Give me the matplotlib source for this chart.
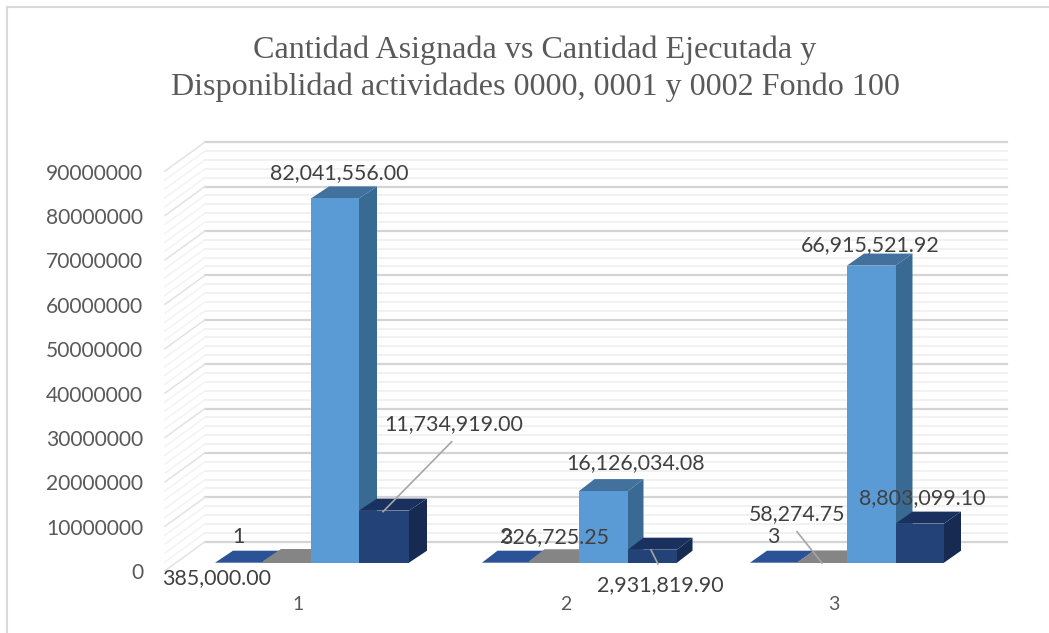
import matplotlib
matplotlib.use("Agg")
import matplotlib.pyplot as plt
from matplotlib.patches import Polygon, Rectangle
from matplotlib.lines import Line2D
from matplotlib.transforms import ScaledTranslation

# data
categories = ["1", "2", "3"]
actividad = [1, 2, 3]
disponible = [385000.00, 326725.25, 58274.75]
asignada = [82041556.00, 16126034.08, 66915521.92]
ejecutada = [11734919.00, 2931819.90, 8803099.10]
y_ticks = list(range(0, 90000001, 10000000))
title_lines = ["Cantidad Asignada vs Cantidad Ejecutada y",
               "Disponiblidad actividades 0000, 0001 y 0002 Fondo 100"]

# layout, in picture pixels
W, H = 1049, 633
PX_PER_UNIT = 44.4 / 1e7
BASE = 562.7
LEFT, RIGHT, TOP = 165, 1007, 130
group_edges = [[215, 263, 311, 359, 409],
               [482, 529, 579, 628, 677],
               [750, 797, 847, 895.5, 944]]
group_depth = [18, 15.5, 17]
tick_x = [298, 566, 834]
label_pos = [[(238, 537), (216.7, 578), (339, 173), (454, 424)],
             [(506, 537), (555, 537), (635.7, 463), (660, 585)],
             [(773, 537), (797, 514), (870, 245), (922, 498)]]
leaders = [((451.7, 441.7), (383, 511.7)),
           ((651, 550), (658, 564)),
           ((797, 531.7), (822, 563))]

front_colors = ["#2b5297", "#858585", "#5b9bd5", "#234378"]
top_colors = ["#2b5297", "#858585", "#41719c", "#1a315f"]
side_colors = ["#204078", "#6a6a6a", "#386a94", "#162a52"]
TEXT = "#404040"
TICK = "#595959"

plt.rcParams['font.family'] = ['Lato', 'DejaVu Sans']

fig = plt.figure(figsize=(W / 100, H / 100), dpi=100)
ax = fig.add_axes([LEFT / W, 1 - BASE / H, (RIGHT - LEFT) / W, (BASE - TOP) / H])
ax.set_xlim(LEFT, RIGHT)
ax.set_ylim(0, (BASE - TOP) / PX_PER_UNIT)
ax.patch.set_visible(False)
for s in ax.spines.values():
    s.set_visible(False)


def px_fig(p):
    return p[0] / W, 1 - p[1] / H


# chart border
fig.add_artist(Line2D([7 / W, 7 / W], [0, 1 - 7 / H], color="#d9d9d9", lw=1.5))
fig.add_artist(Line2D([7 / W, 1], [1 - 7 / H, 1 - 7 / H], color="#d9d9d9", lw=1.5))

# back wall and side wall lines
wall_dy = 21 / PX_PER_UNIT
front_dy = -8 / PX_PER_UNIT
for v in range(0, 90000001, 2000000):
    major = v % 10000000 == 0
    col = "#d4d4d4" if major else "#ededed"
    lw = 1.6 if major else 1.1
    ax.plot([205, RIGHT], [v + wall_dy, v + wall_dy], color=col, lw=lw, zorder=1, clip_on=False)
    ax.plot([LEFT, 205], [v + front_dy, v + wall_dy], color="#e2e2e2" if major else "#f3f3f3",
            lw=1.1, zorder=1, clip_on=False)


def bar3d(x0, x1, h, depth, i, z):
    dy = 12 / PX_PER_UNIT
    ax.add_patch(Polygon([(x1, 0), (x1 + depth, dy), (x1 + depth, h + dy), (x1, h)],
                         fc=side_colors[i], ec="none", zorder=z, clip_on=False))
    ax.add_patch(Polygon([(x0, h), (x0 + depth, h + dy), (x1 + depth, h + dy), (x1, h)],
                         fc=top_colors[i], ec="none", zorder=z, clip_on=False))
    ax.add_patch(Rectangle((x0, 0), x1 - x0, h, fc=front_colors[i], ec="none", zorder=z, clip_on=False))


for g in range(len(categories)):
    # the first series is the activity number, so it stays flat on the floor
    vals = [actividad[g], disponible[g], asignada[g], ejecutada[g]]
    edges = group_edges[g]
    for i, v in enumerate(vals):
        bar3d(edges[i], edges[i + 1], v, group_depth[g], i, 3 + i * 0.1)

    texts = [str(actividad[g]), f"{disponible[g]:,.2f}", f"{asignada[g]:,.2f}", f"{ejecutada[g]:,.2f}"]
    for t, p in zip(texts, label_pos[g]):
        fx, fy = px_fig(p)
        fig.text(fx, fy, t, ha="center", va="center", fontsize=15.4, color=TEXT, zorder=6)
    a, b = leaders[g]
    fa, fb = px_fig(a), px_fig(b)
    fig.add_artist(Line2D([fa[0], fb[0]], [fa[1], fb[1]], color="#a6a6a6", lw=1.2, zorder=5))

# axes
ax.set_yticks(y_ticks)
ax.set_yticklabels([str(v) for v in y_ticks])
ax.set_xticks(tick_x)
ax.set_xticklabels(categories)
ax.tick_params(axis="y", length=0, pad=15.8, labelsize=15.1, labelcolor=TICK)
ax.tick_params(axis="x", length=0, pad=24, labelsize=14, labelcolor=TICK)
shift = ScaledTranslation(0, -8.5 / 100, fig.dpi_scale_trans)
for lab in ax.get_yticklabels():
    lab.set_transform(lab.get_transform() + shift)

for line, y in zip(title_lines, [58, 95]):
    fx, fy = px_fig((535, y))
    fig.text(fx, fy, line, ha="center", va="baseline", fontsize=23.1,
             family=["Liberation Serif", "DejaVu Serif"], color=TICK)

fig.savefig("out.png", dpi=100)
